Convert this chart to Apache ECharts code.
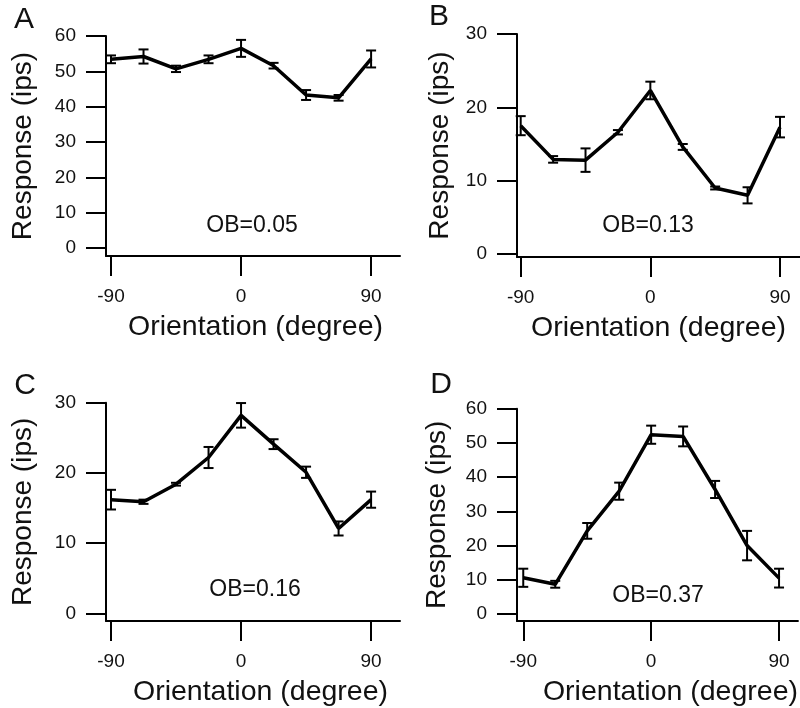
<!DOCTYPE html>
<html>
<head>
<meta charset="utf-8">
<title>Orientation tuning</title>
<script src="https://cdn.jsdelivr.net/npm/echarts@6/dist/echarts.min.js"></script>
<style>
  html, body { margin: 0; padding: 0; background: #fff; }
  #chart { width: 800px; height: 708px; }
</style>
</head>
<body>
<div id="chart"></div>
<script>
// orientation of the stimulus (deg)
var orientations = [-90, -67.5, -45, -22.5, 0, 22.5, 45, 67.5, 90];
var xTicks = [-90, 0, 90];

// mean response and error (ips) per cell
var meanA = [53.4, 54.2, 50.7, 53.4, 56.5, 51.6, 43.3, 42.5, 53.5];
var errA  = [1.1, 2.0, 0.9, 1.1, 2.4, 0.8, 1.4, 0.8, 2.4];
var meanB = [17.5, 12.9, 12.8, 16.6, 22.3, 14.6, 9.0, 8.0, 17.3];
var errB  = [1.3, 0.45, 1.6, 0.3, 1.2, 0.4, 0.2, 1.1, 1.4];
var meanC = [16.2, 15.9, 18.4, 22.2, 28.2, 24.1, 20.1, 12.1, 16.2];
var errC  = [1.4, 0.3, 0.2, 1.5, 1.75, 0.7, 0.8, 1.0, 1.15];
var meanD = [10.6, 8.7, 24.3, 35.9, 52.4, 51.9, 36.4, 20.0, 10.5];
var errD  = [2.65, 1.0, 2.3, 2.5, 2.65, 2.9, 2.5, 4.3, 2.75];

var yTicksA = [0, 10, 20, 30, 40, 50, 60];
var yTicksB = [0, 10, 20, 30];
var yTicksC = [0, 10, 20, 30];
var yTicksD = [0, 10, 20, 30, 40, 50, 60];

var obLabels = ['OB=0.05', 'OB=0.13', 'OB=0.16', 'OB=0.37'];
var panelLetters = ['A', 'B', 'C', 'D'];

var FONT = '"Liberation Sans", Arial, Helvetica, sans-serif';

init();

function init(){
  initChart();
}

function renderErrorBar(params, api){
  var x = api.value(0);
  var lo = api.coord([x, api.value(1)]);
  var hi = api.coord([x, api.value(2)]);
  var half = 5;
  var st = { stroke: '#000', lineWidth: 2 };
  return {
    type: 'group',
    children: [
      { type: 'line', shape: { x1: lo[0], y1: lo[1], x2: hi[0], y2: hi[1] }, style: st },
      { type: 'line', shape: { x1: hi[0] - half, y1: hi[1], x2: hi[0] + half, y2: hi[1] }, style: st },
      { type: 'line', shape: { x1: lo[0] - half, y1: lo[1], x2: lo[0] + half, y2: lo[1] }, style: st }
    ]
  };
}

function makeXAxis(idx, min, max, titlePad){
  return {
    type: 'value', gridIndex: idx, min: min, max: max,
    name: 'Orientation (degree)', nameLocation: 'middle', nameGap: 57,
    nameTextStyle: { fontFamily: FONT, fontSize: 28.5, color: '#111', padding: titlePad },
    axisLine: { onZero: false, lineStyle: { color: '#000', width: 2 } },
    axisTick: { customValues: xTicks, length: 20, lineStyle: { color: '#000', width: 2 } },
    axisLabel: { customValues: xTicks, margin: 31, fontFamily: FONT, fontSize: 19, color: '#111' },
    splitLine: { show: false }
  };
}

function makeYAxis(idx, min, max, ticks, gap){
  return {
    type: 'value', gridIndex: idx, min: min, max: max,
    name: 'Response (ips)', nameLocation: 'middle', nameGap: gap, nameRotate: 90,
    nameTextStyle: { fontFamily: FONT, fontSize: 28, color: '#111' },
    axisLine: { onZero: false, lineStyle: { color: '#000', width: 2 } },
    axisTick: { customValues: ticks, length: 20, lineStyle: { color: '#000', width: 2 } },
    axisLabel: { customValues: ticks, margin: 30, fontFamily: FONT, fontSize: 19, color: '#111' },
    splitLine: { show: false }
  };
}

function lineData(means){
  return orientations.map(function(o, i){ return [o, means[i]]; });
}

function barData(means, errs){
  return orientations.map(function(o, i){ return [o, means[i] - errs[i], means[i] + errs[i]]; });
}

function panelSeries(idx, means, errs){
  return [
    {
      type: 'line', xAxisIndex: idx, yAxisIndex: idx, data: lineData(means),
      symbol: 'none', lineStyle: { color: '#000', width: 3.5 }, silent: true
    },
    {
      type: 'custom', xAxisIndex: idx, yAxisIndex: idx, data: barData(means, errs),
      renderItem: renderErrorBar, encode: { x: 0, y: [1, 2] }, silent: true
    }
  ];
}

function textEl(text, x, y, size){
  return {
    type: 'text', x: x, y: y, silent: true,
    style: { text: text, font: size + 'px ' + FONT, fill: '#111', textAlign: 'center', textVerticalAlign: 'middle' }
  };
}

function initChart(){
  var myChart = echarts.init(document.getElementById('chart'));
  var grids = [
    { left: 106, top: 36, width: 294, height: 220 },
    { left: 517, top: 34, width: 283, height: 223 },
    { left: 106, top: 402.7, width: 294, height: 220.6 },
    { left: 517, top: 408.7, width: 283, height: 214 }
  ];
  var option = {
    animation: false,
    backgroundColor: '#fff',
    grid: grids,
    xAxis: [
      makeXAxis(0, -93.46, 110, [0, 0, 0, 5]),
      makeXAxis(1, -92.57, 103.9, [0, 0, 0, 0]),
      makeXAxis(2, -93.46, 110, [0, 0, 0, 15]),
      makeXAxis(3, -94.4, 103.3, [0, 0, 0, 26])
    ],
    yAxis: [
      makeYAxis(0, -2.26, 60, yTicksA, 69),
      makeYAxis(1, -0.41, 30, yTicksB, 63),
      makeYAxis(2, -1.07, 30, yTicksC, 69),
      makeYAxis(3, -2.03, 60, yTicksD, 66)
    ],
    series: [].concat(
      panelSeries(0, meanA, errA),
      panelSeries(1, meanB, errB),
      panelSeries(2, meanC, errC),
      panelSeries(3, meanD, errD)
    ),
    graphic: [
      textEl(panelLetters[0], 24, 20, 30),
      textEl(panelLetters[1], 439, 17, 30),
      textEl(panelLetters[2], 25, 386, 30),
      textEl(panelLetters[3], 441, 385, 30),
      textEl(obLabels[0], 252, 226, 23),
      textEl(obLabels[1], 648, 226, 23),
      textEl(obLabels[2], 255, 590, 23),
      textEl(obLabels[3], 658, 596, 23)
    ]
  };
  myChart.setOption(option);
}
</script>
</body>
</html>
